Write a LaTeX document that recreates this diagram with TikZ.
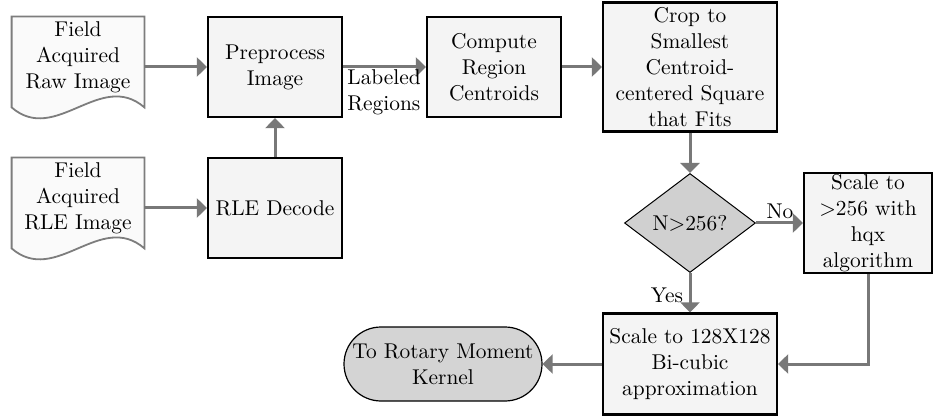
\documentclass[tikz,border=0pt]{standalone}
\usetikzlibrary{arrows.meta,shapes.geometric}
\definecolor{arrowgray}{RGB}{120,120,120}
\definecolor{boxfill}{RGB}{244,244,244}
\definecolor{docfill}{RGB}{250,250,250}
\definecolor{docline}{RGB}{125,125,125}
\definecolor{diafill}{RGB}{208,208,208}
\definecolor{termfill}{RGB}{212,212,212}
\newcommand\docoutline[1]{%
  \draw[docbox] (#1.north west) -- (#1.north east) -- ([yshift=5pt]#1.south east)
    .. controls +(-44,-38) and +(44,38) .. ([yshift=5pt]#1.south west) -- cycle;}
\begin{document}
\begin{tikzpicture}[x=0.5pt,y=-0.5pt,
  txt/.style={font=\fontsize{10.7}{13.1}\selectfont, align=center},
  procbox/.style={txt, draw=black, line width=1.1pt, fill=boxfill, inner sep=0.3pt,
    minimum width=67pt, minimum height=50pt},
  docbox/.style={draw=docline, line width=0.9pt, fill=docfill},
  docnode/.style={draw=none, minimum width=66pt, minimum height=50pt, inner sep=0pt},
  arr/.style={draw=arrowgray, line width=1.5pt, -{Triangle[length=5pt,width=9.5pt]}},
  lbl/.style={txt, inner sep=0pt}]
\useasboundingbox (0,0) rectangle (933,417);

% document shapes
\node[docnode] (docA) at (78,67) {};
\docoutline{docA}
\node[txt, inner sep=0pt] (docAt) at (78,57) {Field\\Acquired\\Raw Image};
\node[docnode] (docB) at (78,208) {};
\docoutline{docB}
\node[txt, inner sep=0pt] (docBt) at (78,198) {Field\\Acquired\\RLE Image};

% process boxes
\node[procbox] (pre) at (275,67) {Preprocess\\Image};
\node[procbox] (rle) at (275,208) {RLE Decode};
\node[procbox] (comp) at (494,67) {Compute\\Region\\Centroids};
\node[procbox, minimum width=87pt, minimum height=64.5pt] (crop) at (690,67)
  {Crop to\\Smallest\\Centroid-\\centered Square\\that Fits};
\node[txt, diamond, draw=black, line width=0.5pt, fill=diafill, inner sep=0pt,
  aspect=1.32, minimum width=65.5pt, minimum height=49.5pt] (dia) at (690,223) {N>256?};
\node[procbox, minimum width=64pt, minimum height=50pt] (hqx) at (868,223)
  {Scale to\\>256 with\\hqx\\algorithm};
\node[procbox, minimum width=87pt, minimum height=50.5pt] (scale) at (690,364)
  {Scale to 128X128\\Bi-cubic\\approximation};
\node[txt, draw=black, line width=0.6pt, fill=termfill, rounded corners=18.5pt,
  minimum width=99pt, minimum height=37pt, inner sep=0pt] (term) at (443,364)
  {To Rotary Moment\\Kernel};

% connectors
\draw[arr] (docA.east) -- (pre.west);
\draw[arr] (docB.east) -- (rle.west);
\draw[arr] (rle.north) -- (pre.south);
\draw[arr] (pre.east) -- (comp.west);
\draw[arr] (comp.east) -- (crop.west);
\draw[arr] (crop.south) -- (dia.north);
\draw[arr] (dia.east) -- (hqx.west);
\draw[arr] (dia.south) -- (scale.north);
\draw[arr] (hqx.south) |- (scale.east);
\draw[arr] (scale.west) -- (term.east);

% labels
\node[lbl, align=left, anchor=north west] (lblreg) at (347,69) {Labeled\\Regions};
\node[lbl] (lblno) at (780,211) {No};
\node[lbl] (lblyes) at (667,295) {Yes};
\end{tikzpicture}
\end{document}
